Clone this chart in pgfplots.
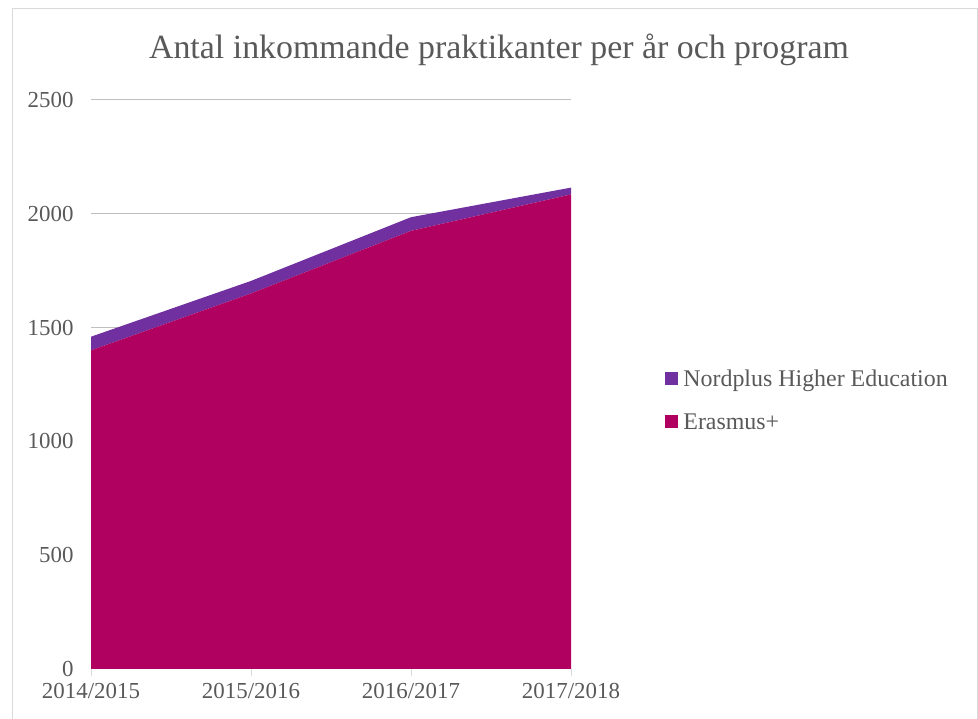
\documentclass[border=0pt]{standalone}
\usepackage{pgfplots}
\pgfplotsset{compat=1.18}
\usepackage{fontspec}
\setmainfont{Liberation Serif}
\definecolor{erasmus}{RGB}{176,0,96}
\definecolor{nordplus}{RGB}{112,48,160}
\definecolor{txt}{RGB}{89,89,89}
\definecolor{grid}{RGB}{217,217,217}
\definecolor{bord}{RGB}{217,217,217}
\begin{document}
\begin{tikzpicture}[x=1bp,y=1bp]
\path[use as bounding box] (0,0) rectangle (978,719);
\draw[bord, line width=1bp] (12,0) -- (12,710) -- (977,710) -- (977,0);
\node[txt, font=\fontsize{34}{40}\selectfont] at (499,669) {Antal inkommande praktikanter per år och program};
\begin{axis}[
  at={(91bp,50bp)}, anchor=south west,
  width=480bp, height=569bp, scale only axis,
  xmin=0, xmax=3, ymin=0, ymax=2500,
  xtick={0,1,2,3},
  xticklabels={2014/2015,2015/2016,2016/2017,2017/2018},
  ytick={0,500,1000,1500,2000,2500},
  stack plots=y,
  axis line style={draw=none},
  xmajorgrids=false, ymajorgrids=true,
  grid style={grid, line width=1bp},
  xtick style={draw=none},
  ytick style={draw=none},
  x tick label style={font=\fontsize{23}{28}\selectfont, text=txt, yshift=-11bp},
  y tick label style={font=\fontsize{23}{28}\selectfont, text=txt, xshift=-14bp},
  /pgf/number format/assume math mode=true,
  /pgf/number format/1000 sep={},
  legend cell align=left,
  reverse legend,
  legend style={at={(1.19,0.472)}, anchor=west, draw=none, fill=none,
    font=\fontsize{24}{28}\selectfont, text=txt, row sep=22bp,
    nodes={inner xsep=5bp}},
  legend image code/.code={\fill[#1] (0bp,-6bp) rectangle (13bp,7bp);},
  clip=false,
]
\addplot[fill=erasmus, draw=none] coordinates {(0,1400) (1,1650) (2,1925) (3,2085)} \closedcycle;
\addlegendentry{Erasmus+}
\addplot[fill=nordplus, draw=none] coordinates {(0,60) (1,55) (2,60) (3,30)} \closedcycle;
\addlegendentry{Nordplus Higher Education}
\draw[grid, line width=1bp] (axis cs:0,0) -- (axis cs:3,0);
\pgfplotsinvokeforeach{0,1,2,3}{\draw[grid, line width=1bp] (axis cs:#1,0) -- ++(0,-7bp);}
\end{axis}
\end{tikzpicture}
\end{document}
